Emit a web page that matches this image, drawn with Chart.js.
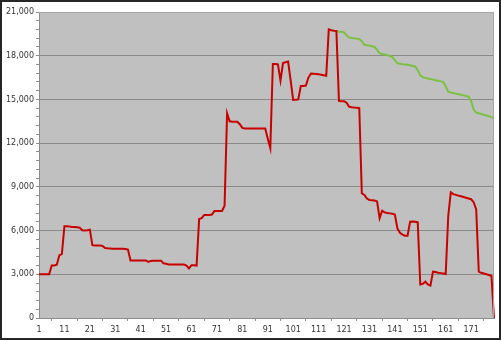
<!DOCTYPE html>
<html><head><meta charset="utf-8">
<script src="https://cdn.jsdelivr.net/npm/chart.js@4/dist/chart.umd.min.js"></script>
<style>html,body{margin:0;padding:0;background:#fff;}canvas{display:block;}</style>
</head><body>
<canvas id="c" width="501" height="341"></canvas>
<script>
const categories = Array.from({length: 180}, (_, i) => String(i + 1));
const redSeries = [
3000,3000,3000,3000,3000, 3600,3600,3650,4300,4400,
6300,6300,6280,6250,6250, 6230,6200,6020,6000,6020,
6060,5000,4980,4980,4970, 4950,4800,4780,4770,4760,
4750,4750,4750,4750,4730, 4700,3950,3950,3950,3950,
3950,3950,3950,3850,3920, 3930,3930,3930,3930,3750,
3720,3680,3680,3680,3680, 3680,3680,3680,3600,3400,
3620,3620,3600,6800,6850, 7070,7070,7070,7100,7340,
7340,7340,7340,7700,14050, 13500,13470,13470,13470,13300,
13050,13000,13000,13000,13000, 13000,13000,13000,13000,13000,
12300,11650,17430,17430,17400, 16300,17500,17550,17600,16300,
14960,14970,15000,15920,15920, 15950,16500,16780,16760,16740,
16720,16700,16660,16620,19810, 19750,19720,19700,14900,14880,
14880,14780,14500,14460,14440, 14430,14400,8560,8440,8200,
8100,8080,8060,8000,6840, 7360,7250,7200,7180,7150,
7100,6150,5850,5720,5650, 5650,6610,6620,6600,6560,
2300,2350,2490,2300,2220, 3180,3150,3100,3080,3050,
3020,7000,8620,8500,8450, 8400,8350,8300,8250,8200,
8150,7950,7450,3180,3100, 3050,3000,2950,2880,0
];
const greenStart = 118;
const greenValues = [
19700,19650,19650,19600,19400,19250,19220,19200,19170,19150,
19000,18750,18720,18700,18650,18600,18400,18170,18120,18080,
18050,17980,17900,17700,17480,17450,17420,17400,17380,17350,
17300,17250,17000,16650,16520,16480,16440,16400,16360,16320,
16280,16240,16200,15900,15530,15480,15440,15400,15360,15320,
15280,15230,15190,14900,14300,14100,14050,14000,13950,13900,
13850,13780,13700
];
const greenSeries = categories.map((c, i) => (i + 1 >= greenStart) ? greenValues[i + 1 - greenStart] : null);
const yMax = 21000, yMajor = 3000, yMinor = 600;

const framePlugin = {
  id: 'frame',
  beforeDraw(chart) {
    const ctx = chart.ctx, a = chart.chartArea;
    ctx.save();
    ctx.fillStyle = '#ffffff';
    ctx.fillRect(0, 0, chart.width, chart.height);
    ctx.fillStyle = '#c0c0c0';
    ctx.fillRect(a.left, a.top, a.right - a.left, a.bottom - a.top);
    ctx.restore();
  },
  afterDraw(chart) {
    const ctx = chart.ctx, a = chart.chartArea;
    ctx.save();
    ctx.strokeStyle = '#a6a6a6';
    ctx.lineWidth = 1;
    ctx.beginPath();
    ctx.moveTo(a.left, a.top + 0.5);
    ctx.lineTo(a.right - 0.5, a.top + 0.5);
    ctx.lineTo(a.right - 0.5, a.bottom);
    ctx.stroke();
    ctx.strokeStyle = '#262626';
    ctx.lineWidth = 2;
    ctx.strokeRect(1, 1, chart.width - 2, chart.height - 3);
    ctx.restore();
  }
};

Chart.defaults.font.family = '"DejaVu Sans", Verdana, sans-serif';
Chart.defaults.font.size = 8;
Chart.defaults.color = '#333333';

new Chart(document.getElementById('c'), {
  type: 'line',
  data: {
    labels: categories,
    datasets: [
      { data: redSeries, borderColor: '#c80000', borderWidth: 2, pointRadius: 0, tension: 0, fill: false },
      { data: greenSeries, borderColor: '#7cc043', borderWidth: 2, pointRadius: 0, tension: 0, fill: false, spanGaps: false }
    ]
  },
  options: {
    responsive: false,
    animation: false,
    devicePixelRatio: 1,
    layout: { padding: { top: 12, right: 7, left: 0, bottom: 0 } },
    plugins: { legend: { display: false }, tooltip: { enabled: false } },
    scales: {
      x: {
        offset: false,
        border: { color: '#8c8c8c', width: 1 },
        grid: {
          drawOnChartArea: false,
          tickLength: 3,
          tickColor: (ctx) => (ctx.index % 10 === 5 ? '#8c8c8c' : 'rgba(0,0,0,0)')
        },
        ticks: {
          autoSkip: false, maxRotation: 0, minRotation: 0, padding: 4,
          callback: function (v, i) { return i % 10 === 0 ? this.getLabelForValue(v) : ''; }
        },
        afterFit: (s) => { s.height = 23; }
      },
      y: {
        min: 0, max: yMax,
        border: { color: '#8c8c8c', width: 1 },
        grid: {
          color: (ctx) => (ctx.tick && ctx.tick.value % yMajor === 0 && ctx.tick.value !== 0 && ctx.tick.value !== yMax ? '#8a8a8a' : 'rgba(0,0,0,0)'),
          tickColor: '#8c8c8c',
          tickLength: 3,
          lineWidth: 1
        },
        ticks: {
          stepSize: yMinor, autoSkip: false, padding: 2,
          callback: (v) => (v % yMajor === 0 ? v.toLocaleString('en-US') : '')
        },
        afterFit: (s) => { s.width = 39; }
      }
    }
  },
  plugins: [framePlugin]
});
</script>
</body></html>
